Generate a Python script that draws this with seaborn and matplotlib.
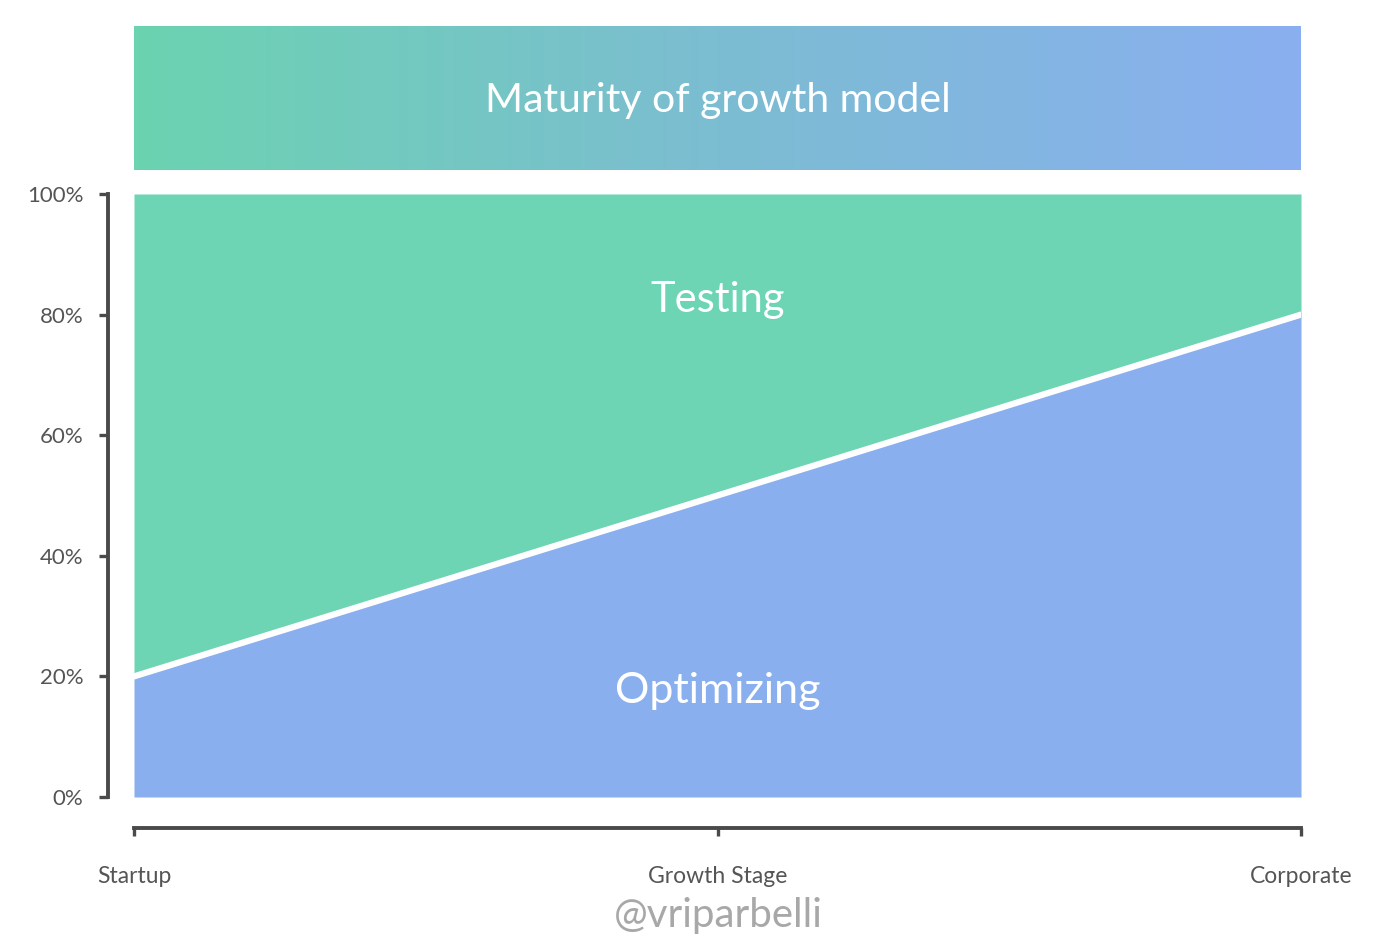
import numpy as np
import pandas as pd
import matplotlib.pyplot as plt
import seaborn as sns
from matplotlib.colors import LinearSegmentedColormap

# data
stages = ['Startup', 'Growth Stage', 'Corporate']
stage_pos = [0, 0.5, 1]
optimizing = [20, 50, 80]
testing = [100 - v for v in optimizing]
y_ticks = [0, 20, 40, 60, 80, 100]

green = '#6DD5B3'
blue = '#8AAFEE'
dark = '#4A4A4A'

sns.set_style('white')
plt.rcParams['font.family'] = ['Lato', 'DejaVu Sans']

W, H = 1386, 950
fig = plt.figure(figsize=(W / 100, H / 100), dpi=100)

# banner with gradient
bx = fig.add_axes([134 / W, 1 - 170 / H, (1301 - 134) / W, (170 - 26) / H])
cmap = LinearSegmentedColormap.from_list('g', ['#6BD3B0', '#7CBDD2', '#8AAFF0'])
bx.imshow(np.linspace(0, 1, 256)[None, :], aspect='auto', cmap=cmap,
          extent=[0, 1, 0, 1])
bx.text(0.5, 0.48, 'Maturity of growth model', color='white', fontsize=29.5,
        ha='center', va='center')
bx.set_axis_off()

# main chart
ax = fig.add_axes([134 / W, 1 - 797 / H, (1301 - 134) / W, (797 - 194) / H])
ax.stackplot(stage_pos, optimizing, testing, colors=[blue, green], linewidth=0)
df = pd.DataFrame({'x': stage_pos, 'y': optimizing})
sns.lineplot(data=df, x='x', y='y', color='white', linewidth=4.5, ax=ax)

ax.set_xlim(0, 1)
ax.set_ylim(0, 100)
ax.set_xticks(stage_pos)
ax.set_xticklabels(stages)
ax.set_yticks(y_ticks)
ax.set_yticklabels([f'{v}%' for v in y_ticks])
ax.set_xlabel('')
ax.set_ylabel('')

sns.despine(ax=ax)
ax.spines['left'].set_position(('outward', 19))
ax.spines['bottom'].set_position(('outward', 22))
for s in ['left', 'bottom']:
    ax.spines[s].set_color(dark)
    ax.spines[s].set_linewidth(2.8)
ax.tick_params(axis='y', direction='out', length=6.5, width=2.4, color=dark,
               labelcolor='#555555', labelsize=16, pad=11, left=True)
ax.tick_params(axis='x', direction='out', length=6, width=2.4, color=dark,
               labelcolor='#555555', labelsize=16.5, pad=22, bottom=True)

ax.text(0.5, 82.5, 'Testing', color='white', fontsize=30, ha='center', va='center')
ax.text(0.5, 17.5, 'Optimizing', color='white', fontsize=31, ha='center', va='center')

fig.text(718 / W, 1 - 915 / H, '@vriparbelli', color='#A8A8A8', fontsize=29,
         ha='center', va='center')

fig.savefig('out.png', dpi=100)
